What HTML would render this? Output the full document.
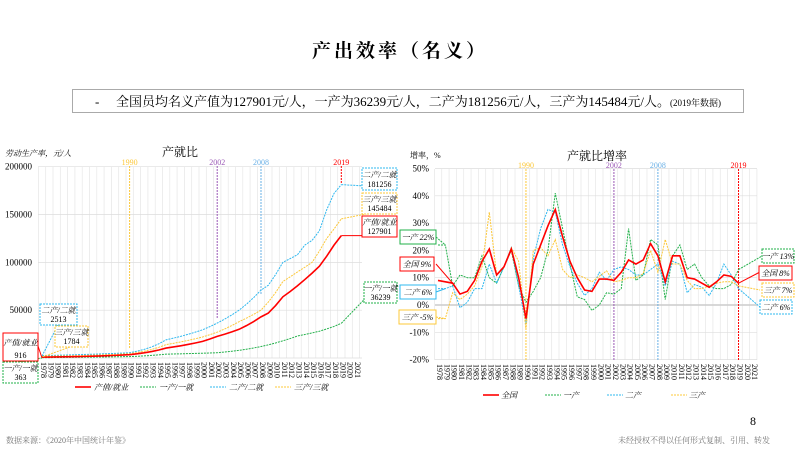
<!DOCTYPE html>
<html><head><meta charset="utf-8"><style>
body{margin:0;width:800px;height:450px;background:#fff;overflow:hidden;font-family:"Liberation Serif","Noto Serif CJK SC",serif;}
svg text{font-family:"Liberation Serif","Noto Serif CJK SC",serif;}
</style></head><body>
<svg id="s" width="800" height="450" xmlns="http://www.w3.org/2000/svg">
<text x="400" y="57" font-size="19" font-weight="bold" text-anchor="middle" letter-spacing="3">产出效率（名义）</text>
<rect x="72.5" y="89.5" width="671" height="23" fill="#fff" stroke="#aaa"/>
<text x="95" y="106" font-size="13">-</text>
<text x="116" y="106" font-size="13">全国员均名义产值为127901元/人，一产为36239元/人，二产为181256元/人，三产为145484元/人。<tspan font-size="9">(2019年数据)</tspan></text>
<text x="750" y="425" font-size="12">8</text>
<text x="6" y="443" font-size="8" fill="#777">数据来源：《2020年中国统计年鉴》</text>
<text x="770" y="443" font-size="8" fill="#777" text-anchor="end">未经授权不得以任何形式复制、引用、转发</text>
<g id="L"></g><g id="R"></g>
</svg>
<script>
const NS="http://www.w3.org/2000/svg";
function el(p,t,a,txt){const e=document.createElementNS(NS,t);for(const k in a)e.setAttribute(k,a[k]);if(txt!=null)e.textContent=txt;p.appendChild(e);return e;}
const L=document.getElementById('L'),R=document.getElementById('R');
const RED="#f00",GRN="#22b04a",BLU="#2fb8ef",YEL="#fcc83a";
// LEFT
function lx(i){return 42+i*7.3;} function ly(v){return 358-v/200000*191.3;}
el(L,'text',{x:180,y:156,'font-size':12,'text-anchor':'middle'},'产就比');
el(L,'text',{x:5,y:156,'font-size':8,'font-style':'italic'},'劳动生产率，元/人');
for(let i=0;i<=44;i++)el(L,'line',{x1:lx(i)-3.6,x2:lx(i)-3.6,y1:167,y2:358,stroke:'#e6e6e6','stroke-width':0.7});
for(let v=0;v<=200000;v+=50000){el(L,'line',{x1:38,x2:362,y1:ly(v),y2:ly(v),stroke:'#ddd','stroke-width':0.7});el(L,'text',{x:32,y:ly(v)+3,'font-size':9,'text-anchor':'end'},v);}
for(let i=0;i<44;i++)el(L,'text',{transform:`translate(${lx(i)-1},362) rotate(90)`,'font-size':8},1978+i);
[[12,YEL,'1990',348],[24,'#9b59b6','2002',318],[30,'#6ab0e6','2008',295],[41,RED,'2019',183]].forEach(([i,c,t,b])=>{el(L,'line',{x1:lx(i),x2:lx(i),y1:166,y2:b,stroke:c,'stroke-dasharray':'2,1','stroke-width':1});el(L,'text',{x:lx(i),y:165,'font-size':8,fill:c,'text-anchor':'middle'},t);});
function interp(pts){const o=[];for(let k=0;k<pts.length-1;k++){const[a,va]=pts[k],[b,vb]=pts[k+1];for(let y=a;y<b;y++)o.push(va*Math.pow(vb/va,(y-a)/(b-a)));}o.push(pts[pts.length-1][1]);return o;}
const tot=interp([[0,916],[5,1500],[12,3500],[17,10400],[22,17400],[24,22600],[27,30000],[30,43000],[31,47000],[33,64000],[36,82000],[38,96000],[40,118000],[41,127901]]);
const sec=interp([[0,2513],[5,3500],[12,5500],[17,19000],[22,29500],[24,36500],[27,50000],[30,71000],[31,76000],[33,100000],[35,108000],[36,118000],[37,123000],[38,133000],[39,155000],[40,172000],[41,181256]]);
const ter=interp([[0,1784],[5,2500],[12,4500],[17,14000],[22,22000],[24,27000],[27,38000],[30,50000],[33,80000],[35,90000],[37,100000],[39,125000],[41,145484]]);
const pri=interp([[0,363],[5,800],[12,1500],[17,4000],[22,5000],[24,5500],[27,8000],[30,12000],[33,18000],[35,23000],[38,28000],[40,33000],[41,36239]]);
function line(g,arr,fx,fy,c,w,d){el(g,'polyline',{points:arr.map((v,i)=>fx(i)+','+fy(v)).join(' '),fill:'none',stroke:c,'stroke-width':w,'stroke-dasharray':d||''});}
line(L,pri,lx,ly,GRN,1,'2,1');line(L,sec,lx,ly,BLU,1,'2,1');line(L,ter,lx,ly,YEL,1,'2,1');line(L,tot,lx,ly,RED,1.6);
function box(g,x,y,w,h,c,t1,t2,dash,fs){el(g,'rect',{x,y,width:w,height:h,fill:'#fff',stroke:c,'stroke-dasharray':dash?'2,1':''});el(g,'text',{x:x+w/2,y:t2?y+h/2-1.5:y+h/2+3,'font-size':fs||8,'text-anchor':'middle','font-style':'italic'},t1);if(t2)el(g,'text',{x:x+w/2,y:y+h-3,'font-size':8,'text-anchor':'middle'},t2);}
function lead(g,x1,y1,x2,y2,c,dash){el(g,'line',{x1,y1,x2,y2,stroke:c,'stroke-width':1,'stroke-dasharray':dash?'2,1':''});}
lead(L,lx(41),ly(181256),397,ly(178000),BLU,1);lead(L,lx(41),ly(145484),397,ly(157000),YEL,1);lead(L,lx(41),ly(127901),362,ly(127901),RED);lead(L,lx(41),ly(36239),380,283,GRN,1);
lead(L,58,325,lx(0),356,BLU,1);lead(L,70,347,lx(0),357,YEL,1);lead(L,38,346,lx(0),358,RED);lead(L,20,362,lx(0),358,GRN,1);
box(L,40,304,37,21,BLU,'二产/二就','2513',1);box(L,55,326,33,21,YEL,'三产/三就','1784',1);box(L,3,333,35,28,RED,'产值/就业','916');box(L,3,362,35,21,GRN,'一产/一就','363',1);
box(L,362,168,35,22,BLU,'二产/二就','181256',1);box(L,362,193,35,21,YEL,'三产/三就','145484',1);box(L,362,216,35,21,RED,'产值/就业','127901');box(L,364,282,33,21,GRN,'一产/一就','36239',1);
[[75,RED,'产值/就业',0],[140,GRN,'一产/一就',1],[210,BLU,'二产/二就',1],[275,YEL,'三产/三就',1]].forEach(([x,c,t,d])=>{el(L,'line',{x1:x,x2:x+16,y1:387,y2:387,stroke:c,'stroke-width':d?1:1.6,'stroke-dasharray':d?'2,1':''});el(L,'text',{x:x+19,y:390,'font-size':8,'font-style':'italic'},t);});
// RIGHT
function rx(i){return 438+i*7.33;} function ry(v){return 305-v*2.73;}
el(R,'text',{x:597,y:160,'font-size':12,'text-anchor':'middle'},'产就比增率');
el(R,'text',{x:410,y:158,'font-size':8},'增率，%');
for(let i=0;i<=44;i++)el(R,'line',{x1:rx(i)-3.6,x2:rx(i)-3.6,y1:169,y2:360,stroke:'#e6e6e6','stroke-width':0.7});
for(let v=-20;v<=50;v+=10){el(R,'line',{x1:435,x2:757,y1:ry(v),y2:ry(v),stroke:v==0?'#ccc':'#ddd','stroke-width':v==0?1.5:0.7});el(R,'text',{x:429,y:ry(v)+3,'font-size':9,'text-anchor':'end'},v+'%');}
for(let i=0;i<44;i++)el(R,'text',{transform:`translate(${rx(i)-1},364) rotate(90)`,'font-size':8},1978+i);
[[12,YEL,'1990'],[24,'#9b59b6','2002'],[30,'#6ab0e6','2008'],[41,RED,'2019']].forEach(([i,c,t])=>{el(R,'line',{x1:rx(i),x2:rx(i),y1:169,y2:360,stroke:c,'stroke-dasharray':'2,1','stroke-width':1});el(R,'text',{x:rx(i),y:168,'font-size':8,fill:c,'text-anchor':'middle'},t);});
const T=[9,8.5,8,4,5,9,16,20.5,11,14,20.5,10,-5,15,22,29,35,25,16,10,5.5,5,9.5,9.5,9,12,16.5,15,16.5,22.5,18,8.5,18,18,10,9.5,8,6.5,8.5,11,10.5,8];
const P=[22,22,7,11,10,10,18,10,8,14,20,7,1,5,10,20,41,28,15,3,2,-2,0,4.5,4,6,28,9,11,24,22,2,18,22,13,15,10,7,6,6,7.5,13];
const S=[6,6,7,-1,1,6,6,15,8,14,21,7,-7,17,28,35,34,22,14,8,3.5,6,12,9,13,14,13,11,11,13,15,7,16,15,4.5,7.5,6.5,3.5,8,15,11,6];
const Y=[-5,-5,4.5,2,4,7,14,34,11,14,21,16,-9,20,21,18,24,13,10,11,10,8.5,10.5,12.5,8.5,9,10,10,11.5,20,12,24,15,15,9,6,6,7,8,8.5,8.5,7];
line(R,P,rx,ry,GRN,1,'2,1');line(R,S,rx,ry,BLU,1,'2,1');line(R,Y,rx,ry,YEL,1,'2,1');line(R,T,rx,ry,RED,1.6);
lead(R,436,237,rx(1),ry(22),GRN,1);lead(R,436,264,rx(2),ry(8),RED);lead(R,436,292,rx(1),ry(6),BLU);lead(R,436,317,rx(1),ry(-5),YEL,1);
lead(R,rx(41),ry(13),762,256,GRN,1);lead(R,rx(41),ry(8),760,272,RED);lead(R,rx(41),ry(7),760,290,YEL,1);lead(R,rx(41),ry(6),760,307,BLU,1);
box(R,400,230,36,14,GRN,'一产 22%',null,0,8);box(R,400,257,34,14,RED,'全国 9%',null,0,8);box(R,400,285,36,14,BLU,'二产 6%',null,0,8);box(R,399,310,37,14,YEL,'三产 -5%',null,0,8);
box(R,762,249,32,14,GRN,'一产 13%',null,1,8);box(R,759,266,33,14,RED,'全国 8%',null,0,8);box(R,762,283,32,14,YEL,'三产 7%',null,1,8);box(R,760,300,32,14,BLU,'二产 6%',null,1,8);
[[483,RED,'全国',0],[545,GRN,'一产',1],[607,BLU,'二产',1],[671,YEL,'三产',1]].forEach(([x,c,t,d])=>{el(R,'line',{x1:x,x2:x+16,y1:395,y2:395,stroke:c,'stroke-width':d?1:1.6,'stroke-dasharray':d?'2,1':''});el(R,'text',{x:x+18,y:398,'font-size':8,'font-style':'italic'},t);});
</script>
</body></html>
